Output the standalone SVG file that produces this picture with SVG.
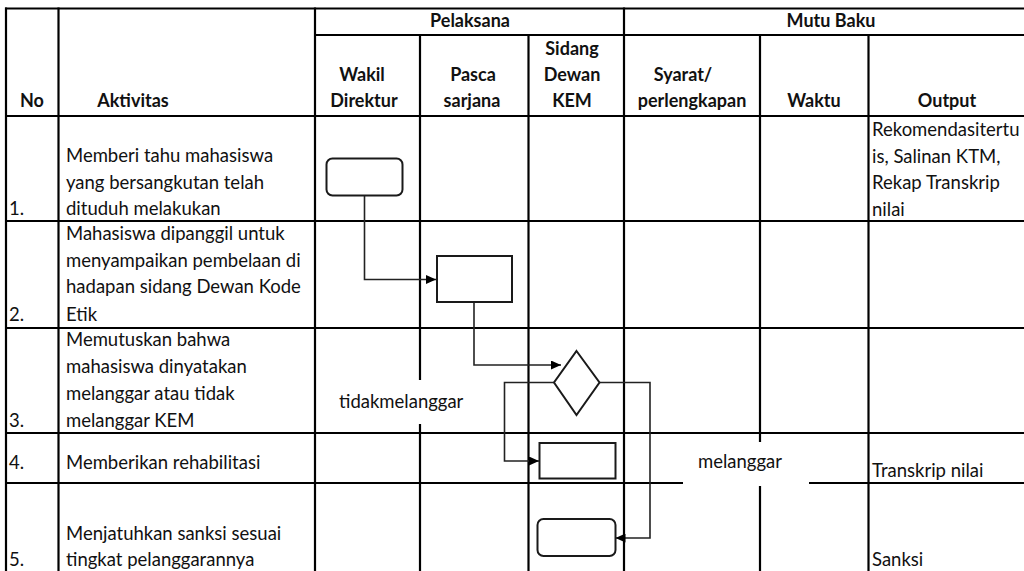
<svg xmlns="http://www.w3.org/2000/svg" width="1024" height="571" viewBox="0 0 1024 571">
  <style>
    .grid line { stroke: #000; stroke-width: 2.2; }
    .t { font-family: Lato, "Liberation Sans", sans-serif; font-size: 18.5px; fill: #111; }
    .h { font-family: Lato, "Liberation Sans", sans-serif; font-size: 18px; font-weight: bold; fill: #111; text-anchor: middle; }
    .node { fill: #fff; stroke: #1a1a1a; stroke-width: 2; }
    .conn { fill: none; stroke: #222; stroke-width: 1.6; }
  </style>
  <defs>
    <marker id="arr" markerUnits="userSpaceOnUse" markerWidth="11" markerHeight="9" refX="10" refY="4.5" orient="auto">
      <path d="M0,0 L10,4.5 L0,9 z" fill="#000"/>
    </marker>
  </defs>
  <rect width="1024" height="571" fill="#fff"/>

  <g id="grid" class="grid">
    <line x1="5" y1="8.5" x2="1024" y2="8.5"/>
    <line x1="315" y1="35" x2="1024" y2="35"/>
    <line x1="5" y1="116" x2="1024" y2="116"/>
    <line x1="5" y1="221" x2="1024" y2="221"/>
    <line x1="5" y1="328" x2="1024" y2="328"/>
    <line x1="5" y1="433" x2="1024" y2="433"/>
    <line x1="5" y1="483" x2="1024" y2="483"/>
    <line x1="6" y1="7.5" x2="6" y2="571"/>
    <line x1="58.5" y1="7.5" x2="58.5" y2="571"/>
    <line x1="315" y1="7.5" x2="315" y2="571"/>
    <line x1="420" y1="35" x2="420" y2="571"/>
    <line x1="528.5" y1="35" x2="528.5" y2="571"/>
    <line x1="624" y1="7.5" x2="624" y2="571"/>
    <line x1="760" y1="35" x2="760" y2="571"/>
    <line x1="868.5" y1="35" x2="868.5" y2="571"/>
  </g>

  <g id="header">
    <text class="h" x="470" y="27">Pelaksana</text>
    <text class="h" x="831" y="27">Mutu Baku</text>
    <text class="h" x="572" y="55">Sidang</text>
    <text class="h" x="362" y="81">Wakil</text>
    <text class="h" x="473" y="81">Pasca</text>
    <text class="h" x="572" y="81">Dewan</text>
    <text class="h" x="683" y="81">Syarat/</text>
    <text class="h" x="32" y="107">No</text>
    <text class="h" x="133" y="107">Aktivitas</text>
    <text class="h" x="364" y="107">Direktur</text>
    <text class="h" x="472" y="107">sarjana</text>
    <text class="h" x="572" y="107">KEM</text>
    <text class="h" x="692" y="107">perlengkapan</text>
    <text class="h" x="814" y="107">Waktu</text>
    <text class="h" x="947" y="107">Output</text>
  </g>

  <g id="rows">
    <text class="t" x="9" y="215">1.</text>
    <text class="t" x="66" y="162">Memberi tahu mahasiswa</text>
    <text class="t" x="66" y="188.5">yang bersangkutan telah</text>
    <text class="t" x="66" y="215">dituduh melakukan</text>
    <text class="t" x="872" y="136">Rekomendasitertu</text>
    <text class="t" x="872" y="162.5">is, Salinan KTM,</text>
    <text class="t" x="872" y="189">Rekap Transkrip</text>
    <text class="t" x="872" y="215.5">nilai</text>

    <text class="t" x="9" y="321">2.</text>
    <text class="t" x="66" y="240">Mahasiswa dipanggil untuk</text>
    <text class="t" x="66" y="266.5">menyampaikan pembelaan di</text>
    <text class="t" x="66" y="293">hadapan sidang Dewan Kode</text>
    <text class="t" x="66" y="321">Etik</text>

    <text class="t" x="9" y="427">3.</text>
    <text class="t" x="66" y="346">Memutuskan bahwa</text>
    <text class="t" x="66" y="373">mahasiswa dinyatakan</text>
    <text class="t" x="66" y="400">melanggar atau tidak</text>
    <text class="t" x="66" y="427">melanggar KEM</text>

    <text class="t" x="9" y="469">4.</text>
    <text class="t" x="66" y="469">Memberikan rehabilitasi</text>
    <text class="t" x="872" y="477">Transkrip nilai</text>

    <text class="t" x="9" y="566">5.</text>
    <text class="t" x="66" y="539.5">Menjatuhkan sanksi sesuai</text>
    <text class="t" x="66" y="566">tingkat pelanggarannya</text>
    <text class="t" x="872" y="566">Sanksi</text>
  </g>

  <g id="label-tidakmelanggar">
    <rect x="333" y="380" width="138" height="44" fill="#fff"/>
    <text class="t" x="339" y="408">tidakmelanggar</text>
  </g>
  <g id="label-melanggar">
    <rect x="683" y="442" width="126" height="44" fill="#fff"/>
    <text class="t" x="698" y="468">melanggar</text>
  </g>

  <g id="connectors">
    <path class="conn" d="M364.5 195.5 V279.5 H436" marker-end="url(#arr)"/>
    <path class="conn" d="M474 302 V365 H561" marker-end="url(#arr)"/>
    <path class="conn" d="M554 382.5 H504.5 V461 H539" marker-end="url(#arr)"/>
    <path class="conn" d="M599.5 382.5 H650 V538 H615.5" marker-end="url(#arr)"/>
  </g>

  <g id="n1"><rect class="node" x="326.5" y="158.5" width="76" height="37" rx="6"/></g>
  <g id="n2"><rect class="node" x="437" y="256" width="75" height="46"/></g>
  <g id="n3"><polygon class="node" points="576.5,351 599.5,382.5 576.5,415 554,382.5"/></g>
  <g id="n4"><rect class="node" x="539.5" y="443" width="76" height="35.5"/></g>
  <g id="n5"><rect class="node" x="537.5" y="519" width="78" height="37" rx="6"/></g>
</svg>
